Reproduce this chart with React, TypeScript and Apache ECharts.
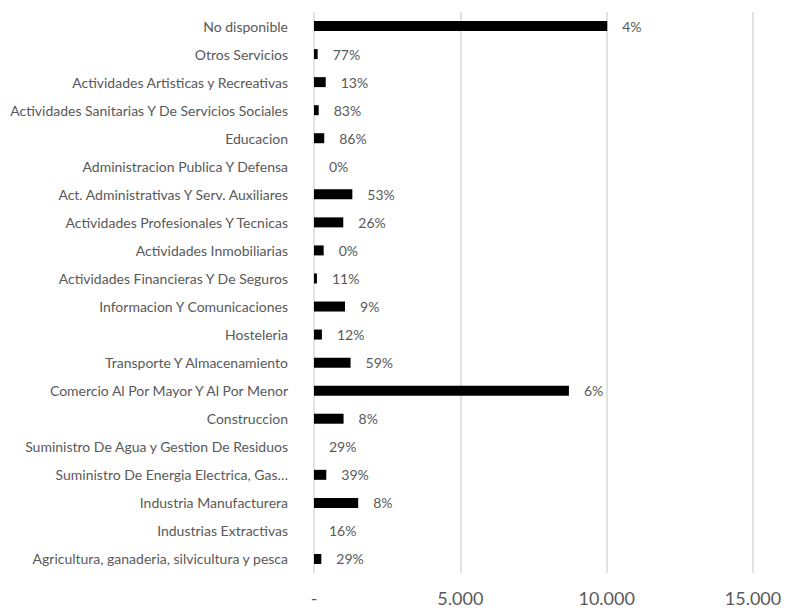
import React, { useEffect, useRef } from "react";
import * as echarts from "echarts";

const categories = [
  "Agricultura, ganaderia, silvicultura y pesca",
  "Industrias Extractivas",
  "Industria Manufacturera",
  "Suministro De Energia Electrica, Gas…",
  "Suministro De Agua y Gestion De Residuos",
  "Construccion",
  "Comercio Al Por Mayor Y Al Por Menor",
  "Transporte Y Almacenamiento",
  "Hosteleria",
  "Informacion Y Comunicaciones",
  "Actividades Financieras Y De Seguros",
  "Actividades Inmobiliarias",
  "Actividades Profesionales Y Tecnicas",
  "Act. Administrativas Y Serv. Auxiliares",
  "Administracion Publica Y Defensa",
  "Educacion",
  "Actividades Sanitarias Y De Servicios Sociales",
  "Actividades Artisticas y Recreativas",
  "Otros Servicios",
  "No disponible",
];

const values = [250, 0, 1510, 420, 0, 1010, 8710, 1250, 270, 1060, 100, 330, 1000, 1310, 0, 350, 160, 400, 125, 10020];

const pctLabels = ["29%", "16%", "8%", "39%", "29%", "8%", "6%", "59%", "12%", "9%", "11%", "0%", "26%", "53%", "0%", "86%", "83%", "13%", "77%", "4%"];

const xTicks = [0, 5000, 10000, 15000];

const FONT = "Lato, 'Liberation Sans', sans-serif";

export default function App() {
  const ref = useRef<HTMLDivElement>(null);
  useEffect(() => {
    if (!ref.current) return;
    const chart = echarts.init(ref.current, undefined, { renderer: "svg" });
    chart.setOption({
      animation: false,
      backgroundColor: "#ffffff",
      grid: { left: 314, right: 34, top: 12, bottom: 38, containLabel: false },
      xAxis: {
        type: "value",
        min: xTicks[0],
        max: xTicks[xTicks.length - 1],
        interval: 5000,
        axisLine: { show: false },
        axisTick: { show: false },
        splitLine: { show: true, lineStyle: { color: "#d9d9d9", width: 1.5 } },
        axisLabel: {
          color: "#595959",
          fontSize: 18,
          fontFamily: FONT,
          margin: 16,
          formatter: (v: number) => (v === 0 ? "-" : v.toLocaleString("de-DE")),
        },
      },
      yAxis: {
        type: "category",
        data: categories,
        axisLine: { show: false },
        axisTick: { show: false },
        axisLabel: { color: "#595959", fontSize: 14, fontFamily: FONT, margin: 26 },
      },
      series: [
        {
          type: "bar",
          data: values,
          barWidth: 10,
          itemStyle: { color: "#000000" },
          label: {
            show: true,
            position: "right",
            distance: 15,
            color: "#595959",
            fontSize: 14,
            fontFamily: FONT,
            formatter: (p: any) => pctLabels[p.dataIndex],
          },
        },
      ],
    });
    return () => chart.dispose();
  }, []);
  return <div ref={ref} style={{ width: 787, height: 611, position: "absolute", left: 0, top: 0 }} />;
}
